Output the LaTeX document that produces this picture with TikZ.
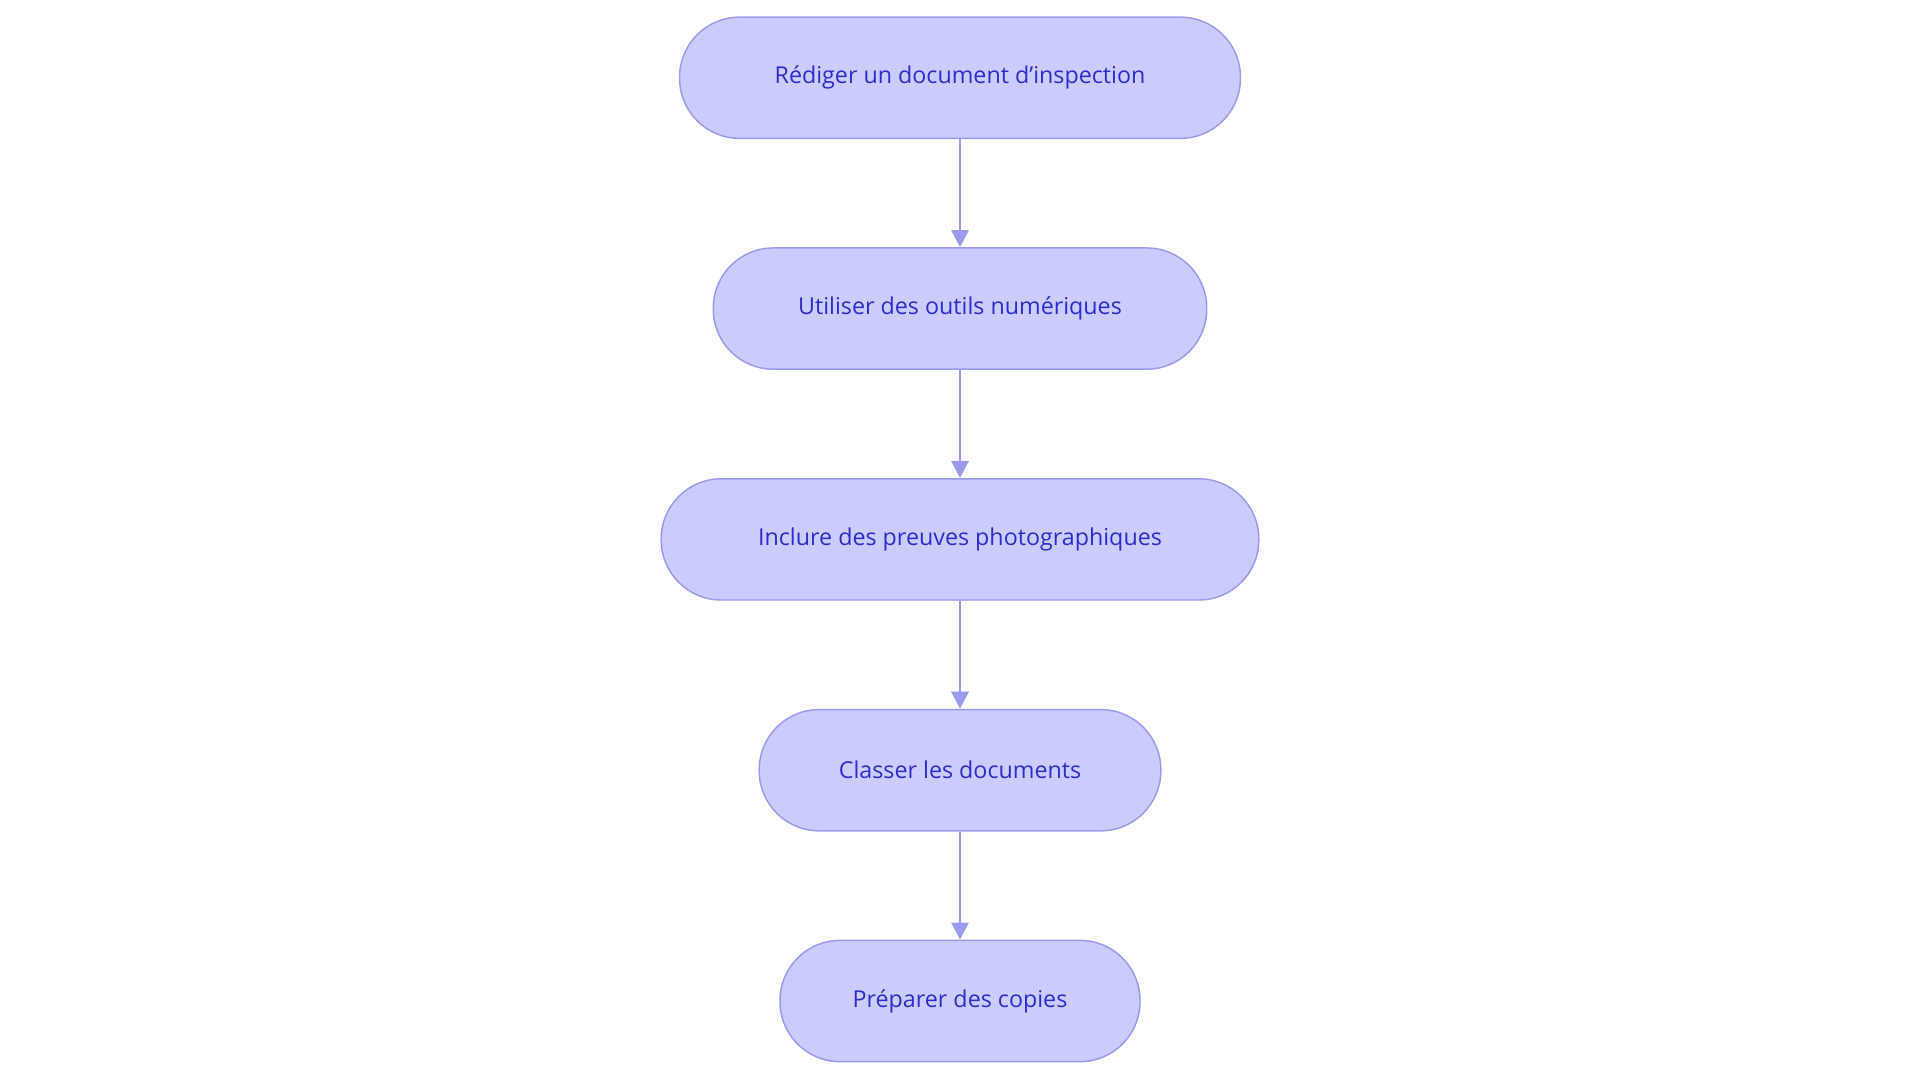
\documentclass[tikz,border=0pt]{standalone}
\usepackage{fontspec}
\setmainfont{Open Sans}
\begin{document}
\begin{tikzpicture}[x=1pt,y=1pt,
  box/.style={draw=black!0!blue!40!white, line width=1.2pt, fill=fillc, rounded corners=49pt, minimum height=99pt, text=textc, font=\fontsize{19}{22}\selectfont, inner sep=0pt},
  arr/.style={draw=linec, line width=2.2pt, -{Triangle[length=14pt,width=14pt]}}]
\definecolor{fillc}{HTML}{CBCBFD}
\definecolor{linec}{HTML}{9A9AEE}
\definecolor{textc}{HTML}{2C2CCB}
\tikzset{box/.append style={draw=linec}}
\useasboundingbox (0,0) rectangle (1568,-884);
\fill[white] (0,0) rectangle (1568,-884);
\node[box, minimum width=458pt] (a) at (784,-63.5) {Rédiger un document d'inspection};
\node[box, minimum width=403pt] (b) at (784,-252) {Utiliser des outils numériques};
\node[box, minimum width=488pt] (c) at (784,-440.5) {Inclure des preuves photographiques};
\node[box, minimum width=328pt] (d) at (784,-629) {Classer les documents};
\node[box, minimum width=294pt] (e) at (784,-817.5) {Préparer des copies};
\usetikzlibrary{arrows.meta}
\draw[arr] (a) -- (b);
\draw[arr] (b) -- (c);
\draw[arr] (c) -- (d);
\draw[arr] (d) -- (e);
\end{tikzpicture}
\end{document}
